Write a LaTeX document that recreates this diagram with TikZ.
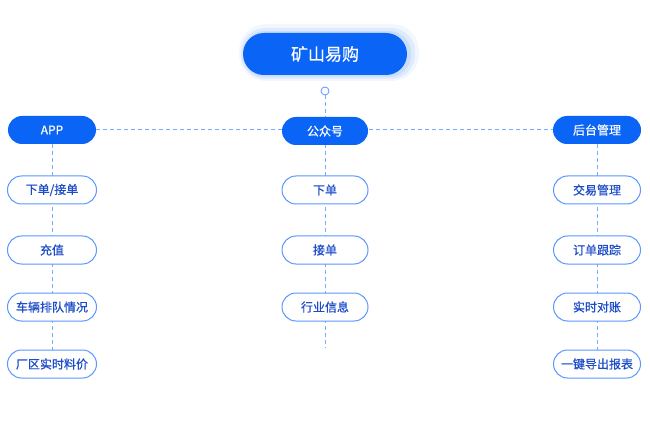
\documentclass[tikz,border=0pt]{standalone}
\usepackage{fontspec}
\setmainfont{Noto Sans CJK SC}
\newfontfamily\medfont[FakeBold=0.6]{Noto Sans CJK SC}
\usepackage{tikz}
\usetikzlibrary{shapes.misc,backgrounds}
\definecolor{mainblue}{HTML}{0A64F5}
\definecolor{lineblue}{HTML}{7AAAFF}
\definecolor{edgeblue}{HTML}{5A97FF}
\definecolor{textblue}{HTML}{1C4CC8}
\tikzset{
  root/.style={rounded rectangle, fill=mainblue, text=white,
    minimum width=164pt, minimum height=42pt, inner sep=0pt,
    font=\medfont\fontsize{17}{20}\selectfont},
  head/.style={rounded rectangle, fill=mainblue, text=white,
    minimum width=88pt, minimum height=28pt, inner sep=0pt,
    font=\medfont\fontsize{12}{14}\selectfont},
  item/.style={rounded rectangle, draw=edgeblue, line width=1pt, fill=white,
    text=textblue, minimum width=87pt, minimum height=28pt, inner sep=0pt,
    font=\medfont\fontsize{12}{14}\selectfont},
  link/.style={lineblue, line width=1pt, dash pattern=on 4pt off 3pt}
}

\begin{document}
\begin{tikzpicture}[x=1pt, y=-1pt]

\newcommand\colA{52}
\newcommand\colB{325}
\newcommand\colC{597}

\useasboundingbox (0,0) rectangle (650,430);

%% glow under the title
\fill[mainblue, opacity=0.05, rounded corners=27pt] (239,24) rectangle (419,81);
\fill[mainblue, opacity=0.08, rounded corners=24pt] (241,28) rectangle (415,79);
\fill[mainblue, opacity=0.10, rounded corners=22pt] (243,31) rectangle (411,77);

\node[root] (top) at (\colB, 54) {矿山易购};
\node[circle, draw=edgeblue, fill=white, line width=0.8pt,
  minimum size=8pt, inner sep=0pt] (dot) at (\colB, 91) {};

%% headings
\node[head] (app) at (\colA, 130) {APP};
\node[head, minimum width=86pt] (pub) at (\colB, 131) {公众号};
\node[head] (admin) at (\colC, 130) {后台管理};

%% APP
\node[item, minimum width=89pt] (appA) at (\colA, 190) {下单/接单};
\node[item, minimum width=89pt] (appB) at (\colA, 250) {充值};
\node[item, minimum width=89pt] (appC) at (\colA, 307) {车辆排队情况};
\node[item, minimum width=89pt] (appD) at (\colA, 364) {厂区实时料价};

%% public account
\node[item, minimum width=86pt] (pubA) at (\colB, 190) {下单};
\node[item, minimum width=86pt] (pubB) at (\colB, 250) {接单};
\node[item, minimum width=86pt] (pubC) at (\colB, 307) {行业信息};
\coordinate (pubEnd) at (\colB, 348);

%% admin
\node[item] (admA) at (\colC, 190) {交易管理};
\node[item] (admB) at (\colC, 250) {订单跟踪};
\node[item] (admC) at (\colC, 307) {实时对账};
\node[item] (admD) at (\colC, 364) {一键导出报表};

\begin{scope}[on background layer]
\fill[white] (0,0) rectangle (650,430);
\draw[link] (app.east) -- (admin.west);
\draw[link] (dot.south) -- (pubEnd);
\draw[link] (app.south) -- (appD.north);
\draw[link] (admin.south) -- (admD.north);
\end{scope}

\end{tikzpicture}
\end{document}
